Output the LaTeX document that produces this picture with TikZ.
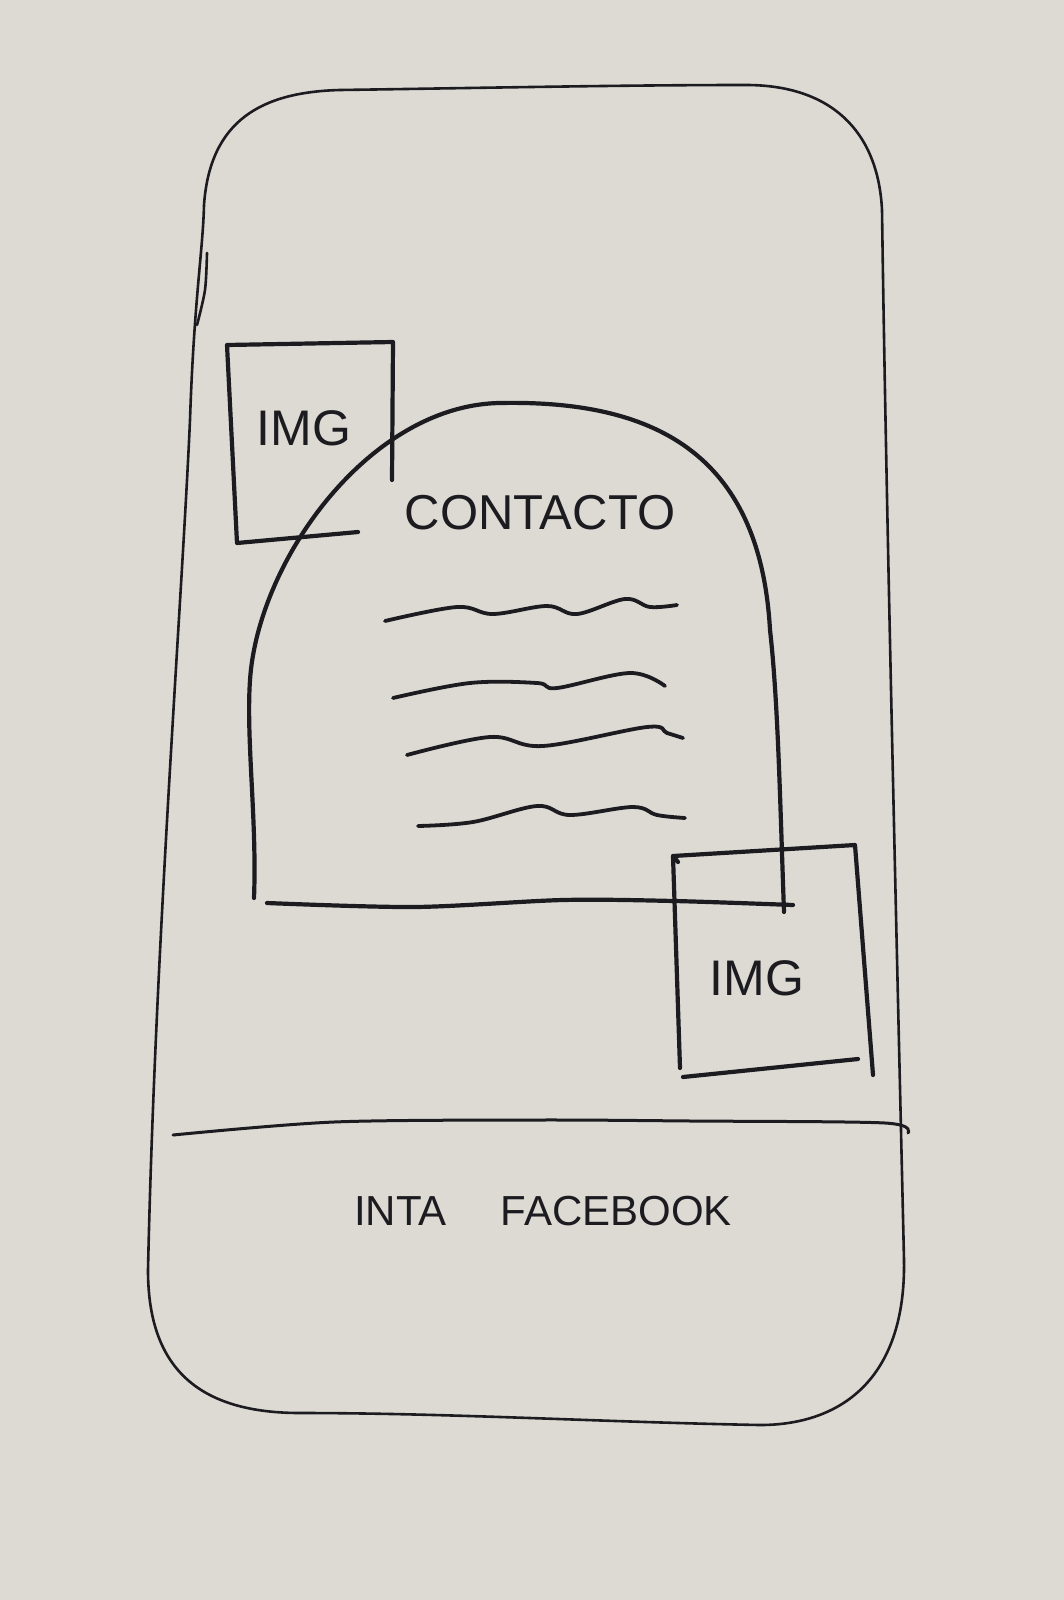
\documentclass[tikz,border=0pt]{standalone}
\usepackage{fontspec}
\setmainfont{Liberation Sans}
\definecolor{paper}{RGB}{221,218,212}
\definecolor{ink}{RGB}{28,27,32}
\begin{document}
\begin{tikzpicture}[x=0.5pt,y=-0.5pt,
  outline/.style={draw=ink,line width=1.3pt,line cap=round,line join=round},
  pen/.style={draw=ink,line width=2.1pt,line cap=round,line join=round},
  wave/.style={draw=ink,line width=1.9pt,line cap=round},
  hand/.style={text=ink,inner sep=0pt,font=\fontsize{25}{28}\selectfont}]
% sheet of paper
\fill[paper] (0,0) rectangle (1064,1600);
\useasboundingbox (0,0) rectangle (1064,1600);

% phone body
\draw[outline] (204,205) .. controls (210,120) and (262,92) .. (340,90)
  .. controls (480,88) and (620,85) .. (746,85)
  .. controls (830,85) and (878,130) .. (882,210)
  .. controls (886,500) and (898,1000) .. (904,1260)
  .. controls (906,1380) and (840,1425) .. (760,1425)
  .. controls (600,1422) and (450,1413) .. (300,1413)
  .. controls (190,1413) and (148,1360) .. (148,1270)
  .. controls (155,950) and (182,600) .. (190,420)
  .. controls (194,300) and (203,250) .. (204,205) -- cycle;
% retraced stroke on the left edge
\draw[outline] plot[smooth,tension=0.5] coordinates {(207,253) (205,290) (197,325)};

% footer divider
\draw[outline,line width=1.5pt] plot[smooth,tension=0.5] coordinates {
  (173,1135) (334,1122) (538,1120) (691,1121) (885,1123) (908,1133)};
\node[hand,font=\fontsize{21}{24}\selectfont] (social) at (543,1211) {INTA\hspace{27pt}FACEBOOK};

% upper image placeholder
\draw[pen] (392,480) -- (393,342) -- (227,345) -- (237,543) -- (358,532);
\node[hand] (imgA) at (304,428) {IMG};

% contact card
\draw[pen] (254,898) .. controls (257,820) and (246,740) .. (250,680)
  .. controls (258,560) and (370,405) .. (500,403)
  .. controls (650,400) and (760,450) .. (770,630)
  .. controls (778,700) and (780,800) .. (784,912);
\draw[pen] plot[smooth,tension=0.5] coordinates {
  (267,903) (415,907) (563,900) (674,901) (793,905)};
\node[hand,font=\fontsize{24.5}{28}\selectfont] (contacto) at (540,513) {CONTACTO};

% text lines
\draw[wave] plot[smooth,tension=0.6] coordinates {
  (385,621) (457,607) (493,614) (547,606) (577,614) (625,599) (650,607) (677,605)};
\draw[wave] plot[smooth,tension=0.6] coordinates {
  (393,698) (470,683) (537,683) (557,688) (630,673) (665,686)};
\draw[wave] plot[smooth,tension=0.6] coordinates {
  (407,755) (490,737) (543,746) (647,727) (667,733) (683,738)};
\draw[wave] plot[smooth,tension=0.6] coordinates {
  (418,826) (473,822) (537,806) (570,815) (633,807) (657,815) (685,818)};

% lower image placeholder
\draw[pen] (678,862) -- (673,856) -- (855,845) -- (873,1075);
\draw[pen] (673,856) -- (680,1068);
\draw[pen] (683,1077) -- (858,1059);
\node[hand] (imgB) at (757,978) {IMG};
\end{tikzpicture}
\end{document}
